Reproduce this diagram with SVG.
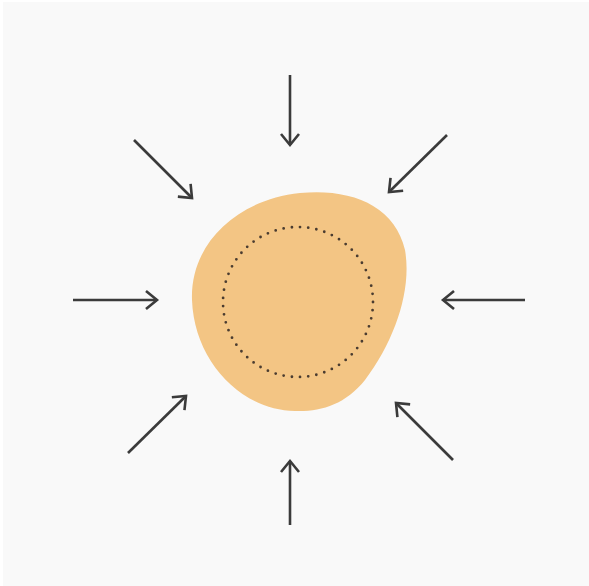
<svg xmlns="http://www.w3.org/2000/svg" width="589" height="586" viewBox="0 0 589 586">
<defs>
<style>
.arr{stroke:#3b3b3b;stroke-width:2.6;fill:none;stroke-linecap:butt;marker-end:url(#head)}
</style>
<marker id="head" markerUnits="userSpaceOnUse" markerWidth="30" markerHeight="30" viewBox="-15 -15 30 30" refX="0" refY="0" orient="auto">
<path d="M-11,-9 L0,0 L-11,9" fill="none" stroke="#3b3b3b" stroke-width="2.6" stroke-linejoin="miter"/>
</marker>
</defs>
<rect x="0" y="0" width="589" height="586" fill="#ffffff"/>
<rect x="3" y="2" width="586" height="584" fill="#f9f9f9"/>
<g id="blob">
<path d="M192,300 C190,245 235,200 300,193 C350,188 395,205 405,250 C412,290 395,340 365,380 C345,405 320,412 295,411 C240,410 194,360 192,300 Z" fill="#f3c584"/>
<circle cx="298" cy="302" r="75" pathLength="57" fill="none" stroke="#4a3c30" stroke-width="2.8" stroke-dasharray="0 1" stroke-linecap="round"/>
</g>
<g id="connectors">
<line class="arr" x1="290" y1="75" x2="290" y2="145"/>
<line class="arr" x1="134" y1="140" x2="192" y2="198"/>
<line class="arr" x1="447" y1="135" x2="389" y2="192"/>
<line class="arr" x1="73" y1="300" x2="157" y2="300"/>
<line class="arr" x1="525" y1="300" x2="443" y2="300"/>
<line class="arr" x1="128" y1="453" x2="186" y2="396"/>
<line class="arr" x1="290" y1="525" x2="290" y2="461"/>
<line class="arr" x1="453" y1="460" x2="396" y2="403"/>
</g>
</svg>
